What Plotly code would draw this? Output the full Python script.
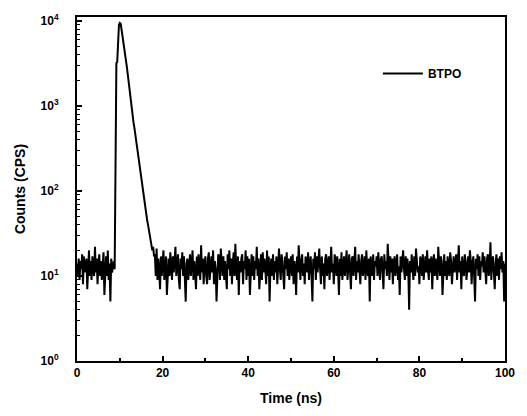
import numpy as np
import plotly.graph_objects as go

# Counts, one value per 0.2 ns channel
pre_rise = [14,10,16,9,15,12,18,8,17,11,
            13,16,7,12,20,10,15,9,17,12,
            10,22,11,16,8,14,18,10,15,9,
            12,19,6,13,17,10,20,9,14,5,
            16,11,13,15,12]
peak = [240,3200,3300,7800,9000,9500,9300,8000,6900,5900,
        5000,4200,3600,3000,2500,2000,1600,1300,1100,900,
        760,640,560,470,400,330,280,230,200,170,
        150,120,100,88,75,66,55,45,40,35,
        30,28,24,20,22,17]
tail = [18,10,21,9,16,12,7,17,10,15,20,9,14,17,6,11,16,10,19,13,
        9,17,11,15,22,10,13,18,9,7,16,12,19,10,17,11,5,14,16,9,
        12,18,10,16,20,9,15,11,7,17,10,18,12,9,23,11,16,8,14,17,
        10,8,16,19,9,13,17,11,20,8,15,12,5,10,18,16,9,21,12,10,
        17,9,15,11,7,18,12,20,10,16,8,14,19,10,24,12,9,17,6,15,
        11,16,18,8,15,12,20,9,17,10,16,6,13,18,10,17,9,15,12,22,
        10,16,7,14,18,9,19,11,16,12,8,20,10,17,5,13,16,10,18,9,
        15,11,17,8,13,21,12,9,18,15,10,7,17,12,19,10,16,9,14,17,
        10,18,8,15,12,6,17,11,23,13,9,15,18,10,14,8,17,15,11,19,
        9,14,17,10,5,16,12,19,9,17,11,15,21,12,8,17,10,14,7,16,
        18,10,13,17,9,15,22,11,14,8,18,15,10,17,12,6,16,10,19,9,
        12,17,10,15,20,9,14,18,11,7,16,17,10,14,22,9,15,11,18,12,
        8,15,18,10,13,17,9,20,12,10,16,5,17,12,10,18,9,15,13,17,
        10,19,12,9,16,17,11,7,18,12,15,10,24,12,9,17,11,16,8,14,
        17,10,15,18,9,13,6,17,11,15,20,12,9,17,10,16,12,4,15,11,
        18,12,9,17,10,21,15,11,13,8,17,15,10,18,9,14,17,11,20,12,
        9,16,11,17,7,14,18,10,16,12,9,22,12,10,17,15,6,13,18,10,
        15,9,17,12,10,19,15,8,13,17,11,16,18,9,14,23,11,15,7,17,
        12,10,18,15,9,13,17,11,20,15,8,14,17,10,5,16,12,18,10,17,
        9,15,13,19,11,17,12,8,16,18,10,13,25,9,15,17,11,7,14,18,
        10,16,9,17,12,19,11,15,5,14]
counts = pre_rise + peak + tail
channel_ns = 0.2
time_ns = np.round(np.arange(len(counts)) * channel_ns, 2)

series_name = "BTPO"
x_ticks = [0, 20, 40, 60, 80, 100]
y_tickvals = [1, 10, 100, 1000, 10000]
y_ticktext = ["<b>10<sup>%d</sup></b>" % i for i in range(5)]

FONT = "Arial, Liberation Sans, sans-serif"

fig = go.Figure()
fig.add_trace(go.Scatter(x=time_ns, y=counts, mode="lines", name="<b>%s</b>" % series_name,
                         line=dict(color="black", width=2)))

fig.update_layout(
    width=527, height=416,
    margin=dict(l=77, r=15, t=16, b=53),
    paper_bgcolor="white", plot_bgcolor="white",
    font=dict(family=FONT, color="black", size=12),
    showlegend=True,
    legend=dict(x=0.703, y=0.836, xanchor="left", yanchor="middle",
                bgcolor="rgba(0,0,0,0)", font=dict(size=12, family=FONT),
                itemwidth=40),
)
fig.update_xaxes(
    range=[0, 100], tickvals=x_ticks,
    ticktext=["<b>%d</b>" % v for v in x_ticks],
    ticks="inside", ticklen=5, tickwidth=1.5, tickcolor="black",
    minor=dict(dtick=10, ticks="inside", ticklen=3, tickcolor="black", tickwidth=1.5),
    showline=True, linewidth=2, linecolor="black", mirror=True,
    showgrid=False, zeroline=False,
    tickfont=dict(size=12, family=FONT),
    title=dict(text="<b>Time (ns)</b>", font=dict(size=14, family=FONT), standoff=14),
)
fig.update_yaxes(
    type="log", range=[0, 4.047],
    tickvals=y_tickvals, ticktext=y_ticktext,
    ticks="inside", ticklen=5, tickwidth=1.5, tickcolor="black",
    minor=dict(dtick="D1", ticks="inside", ticklen=3, tickcolor="black", tickwidth=1),
    showline=True, linewidth=2, linecolor="black", mirror=True,
    showgrid=False, zeroline=False,
    tickfont=dict(size=12, family=FONT),
    ticklabelstandoff=14,
    title=dict(text="<b>Counts (CPS)</b>", font=dict(size=14, family=FONT), standoff=12),
)

fig.write_html("out.html")
